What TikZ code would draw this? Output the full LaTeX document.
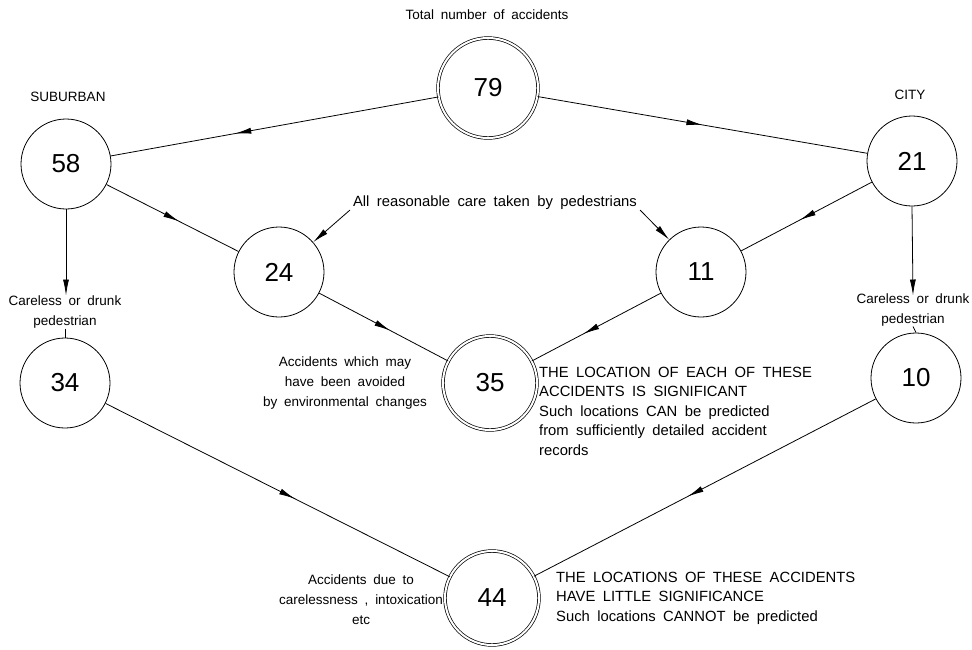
\documentclass[tikz,border=0pt]{standalone}
\usepackage{fontspec}
\setmainfont{Liberation Sans}[WordSpace=1.8]
\usetikzlibrary{arrows.meta,decorations.markings}
\tikzset{
  lbl/.style={inner sep=0pt, font=\fontsize{13.5}{20}\selectfont},
  biglbl/.style={inner sep=0pt, font=\fontsize{14.8}{19.5}\selectfont},
  num/.style={circle, draw, line width=0.8pt, inner sep=0pt, font=\fontsize{26}{26}\selectfont},
  single/.style={num, minimum size=90pt},
  dbl/.style={num, double, double distance=2pt, line width=0.7pt, minimum size=94pt},
  conn/.style={line width=0.8pt},
  mid/.style={conn, decoration={markings, mark=at position #1 with {\arrow{Latex[length=16pt,width=6pt]}}}, postaction={decorate}},
  mid/.default=0.55,
  tipped/.style={conn, -{Latex[length=16pt,width=6pt]}}
}
\begin{document}
\begin{tikzpicture}[x=1pt,y=-1pt]
\useasboundingbox[fill=white] (0,0) rectangle (972,649);
% circles
\node[dbl, minimum size=100pt] (n79) at (488,88) {79};
\node[single] (n58) at (66,164) {58};
\node[single] (n21) at (912,161) {21};
\node[single] (n24) at (279,272) {24};
\node[single] (n11) at (701,272) {11};
\node[dbl] (n35) at (490,383) {35};
\node[single] (n34) at (65,383) {34};
\node[single] (n10) at (916,378) {10};
\node[dbl] (n44) at (492,598) {44};
% labels
\node[lbl] (title) at (487,15) {Total number of accidents};
\node[lbl] (sub) at (68,97) {SUBURBAN};
\node[lbl] (city) at (910,95) {CITY};
\node[lbl, align=center] (cl) at (65,312) {Careless or drunk\\pedestrian};
\node[lbl, align=center] (cr) at (913,310) {Careless or drunk\\pedestrian};
\node[biglbl] (care) at (495,203) {All reasonable care taken by pedestrians};
\node[lbl, align=center] (avoid) at (345,383) {Accidents which may\\have been avoided\\by environmental changes};
\node[biglbl, align=left, anchor=west] (sig) at (539,411) {THE LOCATION OF EACH OF THESE\\ACCIDENTS IS SIGNIFICANT\\Such locations CAN be predicted\\from sufficiently detailed accident\\records};
\node[lbl, align=center, anchor=east] (due) at (443,600) {Accidents due to\\carelessness , intoxication\\etc};
\node[biglbl, align=left, anchor=west] (little) at (556,598) {THE LOCATIONS OF THESE ACCIDENTS\\HAVE LITTLE SIGNIFICANCE\\Such locations CANNOT be predicted};
% connectors
\draw[mid=0.62] (n79) -- (n58);
\draw[mid=0.5] (n79) -- (n21);
\draw[mid] (n58) -- (n24);
\draw[mid] (n21) -- (n11);
\draw[mid] (n24) -- (n35);
\draw[mid=0.6] (n11) -- (n35);
\draw[mid] (n34) -- (n44);
\draw[mid] (n10) -- (n44);
\draw[tipped] (n58.south) -- (n58.south |- cl.north);
\draw[conn] (cl.south) -- (n34.north);
\draw[tipped] (n21.south) -- ([yshift=-2pt]cr.north);
\draw[conn] (cr.south) -- (n10.north);
\draw[tipped] ([xshift=-3pt]care.south west) -- (n24);
\draw[tipped] ([xshift=3pt]care.south east) -- (n11);
\end{tikzpicture}
\end{document}
